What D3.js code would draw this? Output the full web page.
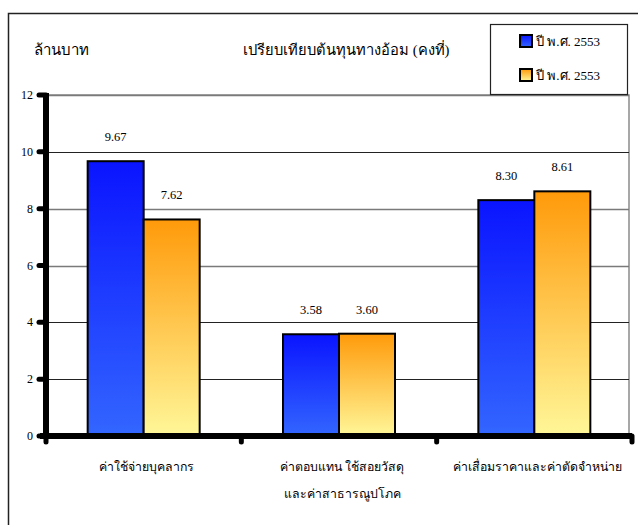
<!DOCTYPE html>
<html><head><meta charset="utf-8">
<script src="https://cdn.jsdelivr.net/npm/d3@7"></script>
<style>body{margin:0;background:#fff}svg{display:block}</style>
</head><body>
<svg id="c" width="638" height="525" font-family="'Liberation Serif', 'Times New Roman', serif"></svg>
<script>
const categories = [["ค่าใช้จ่ายบุคลากร"],["ค่าตอบแทน ใช้สอยวัสดุ","และค่าสาธารณูปโภค"],["ค่าเสื่อมราคาและค่าตัดจำหน่าย"]];
const seriesNames = ["ปี พ.ศ. 2553","ปี พ.ศ. 2553"];
const series1 = [9.67, 3.58, 8.30];
const series2 = [7.62, 3.60, 8.61];
const yTicks = [0,2,4,6,8,10,12];
const unitLabel = "ล้านบาท";
const title = "เปรียบเทียบต้นทุนทางอ้อม (คงที่)";

(function(){
const svg = d3.select("#c");
const defs = svg.append("defs");
const g1 = defs.append("linearGradient").attr("id","gb").attr("x1",0).attr("y1",0).attr("x2",0).attr("y2",1);
g1.append("stop").attr("offset","0%").attr("stop-color","#0a14ff");
g1.append("stop").attr("offset","100%").attr("stop-color","#3366ff");
const g2 = defs.append("linearGradient").attr("id","go").attr("x1",0).attr("y1",0).attr("x2",0).attr("y2",1);
g2.append("stop").attr("offset","0%").attr("stop-color","#ff9a0a");
g2.append("stop").attr("offset","100%").attr("stop-color","#fff799");
const fills = ["url(#gb)","url(#go)"];

// outer frame
svg.append("rect").attr("x",8.5).attr("y",13.5).attr("width",640).attr("height",530).attr("fill","none").attr("stroke","#222").attr("stroke-width",1.5);

const pL=46, pR=632, pT=95, pB=436, frameR=629;
const x = d3.scaleBand().domain(d3.range(categories.length)).range([pL,pR]).paddingInner(0).paddingOuter(0);
const y = d3.scaleLinear().domain([0,12]).range([pB,pT]);
const xs = d3.scaleBand().domain([0,1]).range([0,112]);
const groupPad = (x.bandwidth()-112)/2;

// plot frame
svg.append("rect").attr("x",pL).attr("y",pT).attr("width",frameR-pL).attr("height",pB-pT).attr("fill","none").attr("stroke","#8a8a8a").attr("stroke-width",1.5);

// gridlines
svg.append("g").selectAll("line").data(yTicks.filter(d=>d>0)).join("line")
  .attr("x1",pL).attr("x2",frameR).attr("y1",d=>Math.round(y(d))+0.5).attr("y2",d=>Math.round(y(d))+0.5)
  .attr("stroke",d=>(d===10||d===4||d===2)?"#222":"#7a7a7a").attr("stroke-width",d=>(d===10||d===4||d===2)?1:1.5);

// bars
const data = categories.map((c,i)=>[series1[i],series2[i]]);
const grp = svg.append("g").selectAll("g").data(data).join("g")
  .attr("transform",(d,i)=>`translate(${x(i)+groupPad},0)`);
grp.selectAll("rect").data(d=>d).join("rect")
  .attr("x",(d,j)=>xs(j)).attr("y",d=>y(d)).attr("width",xs.bandwidth()).attr("height",d=>pB-y(d))
  .attr("fill",(d,j)=>fills[j]).attr("stroke","#000").attr("stroke-width",2);
grp.selectAll("text").data(d=>d).join("text")
  .attr("x",(d,j)=>xs(j)+xs.bandwidth()/2).attr("y",d=>y(d)-20)
  .attr("text-anchor","middle").attr("font-size",12.5).text(d=>d.toFixed(2));

// y axis
const yAxis = svg.append("g");
yAxis.append("line").attr("x1",pL).attr("x2",pL).attr("y1",pT-2).attr("y2",pB+2).attr("stroke","#000").attr("stroke-width",6);
yAxis.selectAll("line.t").data(yTicks).join("line").attr("class","t")
  .attr("x1",pL-7).attr("x2",pL).attr("y1",d=>y(d)).attr("y2",d=>y(d))
  .attr("stroke","#000").attr("stroke-width",5).attr("stroke-linecap","round");
yAxis.selectAll("text").data(yTicks).join("text")
  .attr("x",pL-13).attr("y",d=>y(d)+4).attr("text-anchor","end").attr("font-size",12).text(d=>d);

// x axis
const xAxis = svg.append("g");
xAxis.append("line").attr("x1",pL-6).attr("x2",pR).attr("y1",pB).attr("y2",pB).attr("stroke","#000").attr("stroke-width",6);
xAxis.selectAll("line.t").data(d3.range(categories.length+1)).join("line").attr("class","t")
  .attr("x1",i=>pL+i*x.bandwidth()).attr("x2",i=>pL+i*x.bandwidth()).attr("y1",pB).attr("y2",pB+6)
  .attr("stroke","#000").attr("stroke-width",5).attr("stroke-linecap","round");
categories.forEach((lines,i)=>{
  lines.forEach((t,k)=>{
    svg.append("text").attr("x",x(i)+x.bandwidth()/2+3).attr("y",471+k*27).attr("text-anchor","middle").attr("font-size",12.3).text(t);
  });
});

// titles
svg.append("text").attr("x",34).attr("y",55).attr("font-size",15).text(unitLabel);
svg.append("text").attr("x",243).attr("y",55).attr("font-size",14.7).text(title);

// legend
svg.append("rect").attr("x",490.5).attr("y",24.5).attr("width",137).attr("height",70).attr("fill","#fff").attr("stroke","#222").attr("stroke-width",1.2);
seriesNames.forEach((n,j)=>{
  svg.append("rect").attr("x",520).attr("y",35+j*34).attr("width",12).attr("height",12).attr("fill",fills[j]).attr("stroke","#000").attr("stroke-width",2);
  svg.append("text").attr("x",536).attr("y",46+j*34).attr("font-size",13).text(n);
});
})();
</script>
</body></html>
